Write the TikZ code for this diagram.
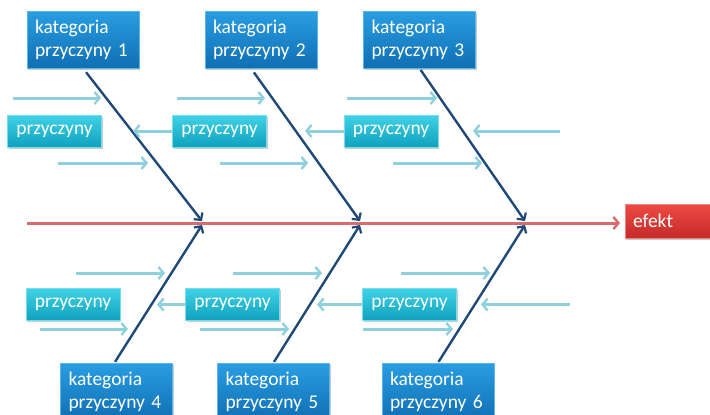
\documentclass[tikz,border=0pt]{standalone}
\usepackage{fontspec}
\setmainfont{Carlito}
\usetikzlibrary{arrows.meta,shadows}

\definecolor{catTop}{HTML}{2A9DE2}
\definecolor{catBot}{HTML}{106FB3}
\definecolor{catEdge}{HTML}{5AB6EA}
\definecolor{cauTop}{HTML}{40D2E6}
\definecolor{cauBot}{HTML}{0FA2BD}
\definecolor{cauEdge}{HTML}{7ADDEB}
\definecolor{effTop}{HTML}{EC4B43}
\definecolor{effBot}{HTML}{C52A2A}
\definecolor{boneCol}{HTML}{1F4A78}
\definecolor{spineCol}{HTML}{D86C6C}
\definecolor{arrowCol}{HTML}{8FD0DD}

\begin{document}
\begin{tikzpicture}[x=1pt,y=-1pt,
  boxshadow/.style={drop shadow={shadow xshift=1.2pt,shadow yshift=-1.5pt,opacity=0.35,fill=black!60}},
  catbox/.style={rectangle, top color=catTop, bottom color=catBot, draw=catEdge,
    line width=0.6pt, text=white, font=\fontsize{19.5}{23}\selectfont,
    align=left, text width=96pt, minimum width=112pt, minimum height=57pt,
    inner sep=0pt, boxshadow},
  causebox/.style={rectangle, top color=cauTop, bottom color=cauBot, draw=cauEdge,
    line width=0.6pt, text=white, font=\fontsize{19.5}{23}\selectfont,
    minimum width=94pt, minimum height=32pt, inner sep=0pt, boxshadow},
  effbox/.style={rectangle, top color=effTop, bottom color=effBot, draw=effTop!70!white,
    line width=0.6pt, text=white, font=\fontsize{19.5}{23}\selectfont,
    align=left, text width=79pt, minimum width=95pt, minimum height=34pt,
    inner sep=0pt, boxshadow},
  spine/.style={draw=spineCol, line width=3pt,
    -{Straight Barb[length=5pt,width=12pt,line width=2.4pt]}},
  bone/.style={draw=boneCol, line width=2.4pt,
    -{Straight Barb[length=5pt,width=11pt,line width=2.2pt]}},
  cause/.style={draw=arrowCol, line width=3pt,
    -{Straight Barb[length=5pt,width=12pt,line width=2.4pt]}}
]
\useasboundingbox (0,0) rectangle (710,415);

% category boxes (top and bottom)
\node[catbox] (c1) at (83,39.5)    {kategoria\\przyczyny 1};
\node[catbox] (c2) at (261,39.5)   {kategoria\\przyczyny 2};
\node[catbox] (c3) at (419.5,39.5) {kategoria\\przyczyny 3};
\node[catbox] (c4) at (116.5,391.5) {kategoria\\przyczyny 4};
\node[catbox] (c5) at (273.5,391.5) {kategoria\\przyczyny 5};
\node[catbox] (c6) at (438,391.5)   {kategoria\\przyczyny 6};

% cause boxes
\node[causebox] (p1) at (54.5,131)  {przyczyny};
\node[causebox] (p2) at (219.5,131) {przyczyny};
\node[causebox] (p3) at (391,131)   {przyczyny};
\node[causebox] (p4) at (73,304.5)    {przyczyny};
\node[causebox] (p5) at (232.5,304.5) {przyczyny};
\node[causebox] (p6) at (409.5,304.5) {przyczyny};

% effect box
\node[effbox] (ef) at (672.5,221) {efekt};

% spine and junction points of the bones
\coordinate (s0) at (27,223);
\coordinate (s1) at (620,223);
\coordinate (j1) at (202,221);
\coordinate (j2) at (360,221);
\coordinate (j3) at (525,221);
\coordinate (j4) at (202,225);
\coordinate (j5) at (360,225);
\coordinate (j6) at (525,225);

\draw[spine] (s0) -- (s1);

% main bones
\draw[bone, shorten <=5pt] (c1.south) -- (j1);
\draw[bone, shorten <=5pt] ([xshift=-10pt]c2.south) -- (j2);
\draw[bone, shorten <=2pt] (c3.south) -- (j3);
\draw[bone, shorten <=1pt] ([xshift=-2pt]c4.north) -- (j4);
\draw[bone, shorten <=1pt] (c5.north) -- (j5);
\draw[bone, shorten <=1pt] (c6.north) -- (j6);

% end points of the small cause arrows
\foreach \n/\x/\y in {
  ua1/13/98,   ua2/101/98,  ub1/177/98,  ub2/265/98,  uc1/347/98,  uc2/437/98,
  la1/58/163,  la2/148/163, lb1/220/163, lb2/308/163, lc1/393/163, lc2/482/163,
  ma/133/131,  mb/305/131,  mc1/560/131, mc2/473/131,
  da1/76/273,  da2/165/273, db1/233/273, db2/322/273, dc1/401/273, dc2/490/273,
  ea1/40/329,  ea2/128/329, eb1/200/329, eb2/289/329, ec1/363/329, ec2/453/329,
  na/157/304.5, nb/317/304.5, nc1/570/304.5, nc2/481/304.5}
  \coordinate (\n) at (\x,\y);

% cause arrows, upper half
\draw[cause] (ua1) -- (ua2);
\draw[cause] (ub1) -- (ub2);
\draw[cause] (uc1) -- (uc2);
\draw[cause] (la1) -- (la2);
\draw[cause] (lb1) -- (lb2);
\draw[cause] (lc1) -- (lc2);
\draw[cause] (p2.west) -- (ma);
\draw[cause] (p3.west) -- (mb);
\draw[cause] (mc1) -- (mc2);

% cause arrows, lower half
\draw[cause] (da1) -- (da2);
\draw[cause] (db1) -- (db2);
\draw[cause] (dc1) -- (dc2);
\draw[cause] (ea1) -- (ea2);
\draw[cause] (eb1) -- (eb2);
\draw[cause] (ec1) -- (ec2);
\draw[cause] (p5.west) -- (na);
\draw[cause] (p6.west) -- (nb);
\draw[cause] (nc1) -- (nc2);
\end{tikzpicture}
\end{document}
